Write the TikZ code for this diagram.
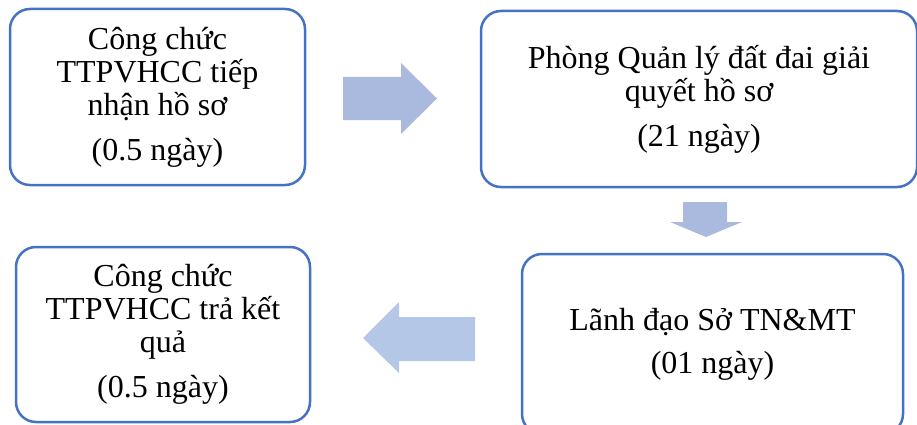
\documentclass[tikz,border=0pt]{standalone}
\usepackage{fontspec}
\setmainfont{Liberation Serif}
\definecolor{boxblue}{HTML}{4472C4}
\definecolor{arrowlav}{HTML}{AAB9DE}
\definecolor{arrowsky}{HTML}{B4C7E7}

\begin{document}
\begin{tikzpicture}[x=1pt,y=-1pt,
      stagebox/.style={draw=boxblue,line width=2.5pt,rounded corners=20pt,
        fill=white,align=center,font=\fontsize{32}{33}\selectfont}]

    \useasboundingbox (0,0) rectangle (917,425);

    \node[stagebox,minimum width=295pt,minimum height=176pt] (nhan) at (157.5,97)
      {Công chức\\TTPVHCC tiếp\\nhận hồ sơ\\[12pt](0.5 ngày)};
    \node[stagebox,minimum width=436pt,minimum height=176pt] (phong) at (699,99)
      {Phòng Quản lý đất đai giải\\quyết hồ sơ\\[12pt](21 ngày)};
    \node[stagebox,minimum width=381pt,minimum height=180pt] (lanhdao) at (712.5,344)
      {Lãnh đạo Sở TN\&MT\\[10pt](01 ngày)};
    \node[stagebox,minimum width=294pt,minimum height=175pt] (tra) at (163,334.5)
      {Công chức\\TTPVHCC trả kết\\quả\\[12pt](0.5 ngày)};

    \fill[arrowlav] (343,77) -- (401,77) -- (401,63) -- (437,98.5)
      -- (401,134) -- (401,120) -- (343,120) -- cycle;
    \fill[arrowlav] (683,202) -- (727,202) -- (727,222) -- (742,222)
      -- (706,237) -- (670,222) -- (683,222) -- cycle;
    \fill[arrowsky] (475,317) -- (399,317) -- (399,302) -- (363,338)
      -- (399,373) -- (399,361) -- (475,361) -- cycle;
  \end{tikzpicture}
\end{document}
